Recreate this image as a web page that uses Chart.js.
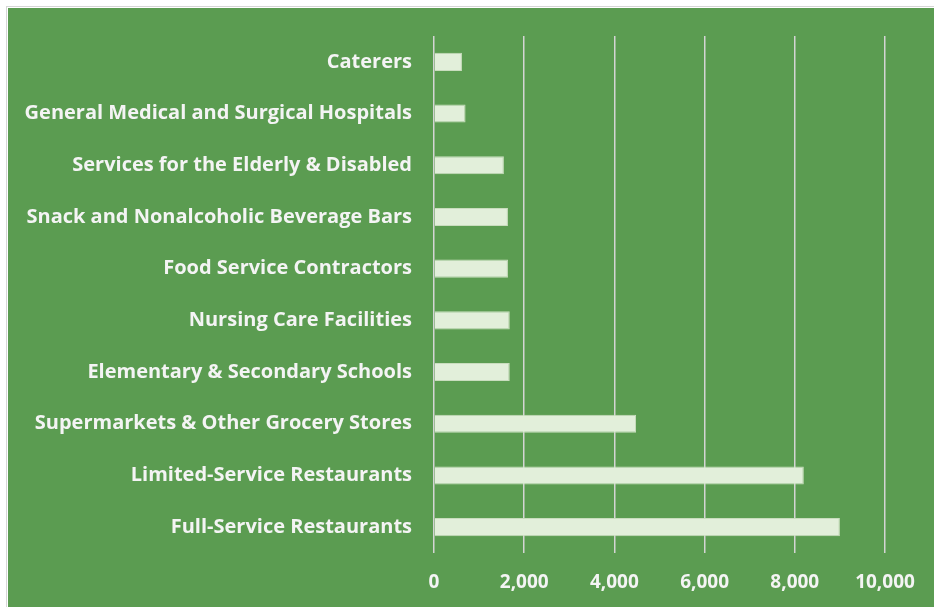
<!DOCTYPE html>
<html>
<head>
<meta charset="utf-8">
<script src="https://cdn.jsdelivr.net/npm/chart.js@4"></script>
<style>
  html, body { margin: 0; padding: 0; background: #ffffff; }
  #wrap { position: absolute; left: 8px; top: 8px; width: 926px; height: 599px; background: #5B9C51; }
  #edge { position: absolute; left: 6px; top: 6px; width: 928px; height: 601px; border-left: 1px solid #d6d6d6; border-top: 1px solid #d6d6d6; }
</style>
</head>
<body>
<div id="edge"></div>
<div id="wrap"><canvas id="barChart" width="926" height="599"></canvas></div>
<script>
// Data, displayed top-to-bottom
const categories = [
    'Caterers',
    'General Medical and Surgical Hospitals',
    'Services for the Elderly & Disabled',
    'Snack and Nonalcoholic Beverage Bars',
    'Food Service Contractors',
    'Nursing Care Facilities',
    'Elementary & Secondary Schools',
    'Supermarkets & Other Grocery Stores',
    'Limited-Service Restaurants',
    'Full-Service Restaurants'
];
const values = [620, 700, 1550, 1640, 1640, 1680, 1680, 4480, 8200, 9000];
const xTicks = [0, 2000, 4000, 6000, 8000, 10000];

const fontFamily = "'Open Sans', Lato, sans-serif";
const textColor = '#F4F4F4';

const ctx = document.getElementById('barChart').getContext('2d');
new Chart(ctx, {
    type: 'bar',
    data: {
        labels: categories,
        datasets: [{
            data: values,
            backgroundColor: '#E2EFDA',
            borderColor: '#C9DDBE',
            borderWidth: 1,
            categoryPercentage: 1,
            barPercentage: 0.35
        }]
    },
    options: {
        indexAxis: 'y',
        responsive: false,
        animation: false,
        layout: { padding: { top: 28, right: 49, bottom: 0, left: 0 } },
        plugins: { legend: { display: false }, tooltip: { enabled: false } },
        scales: {
            x: {
                min: 0, max: 10000,
                afterBuildTicks: axis => { axis.ticks = xTicks.map(v => ({ value: v })); },
                afterFit: axis => { axis.height = 54; },
                grid: { color: '#D4D4D4', lineWidth: 1.5, drawTicks: false },
                border: { display: false },
                ticks: {
                    padding: 18,
                    color: textColor,
                    font: { family: fontFamily, size: 19, weight: 'bold' },
                    callback: v => v.toLocaleString('en-US')
                }
            },
            y: {
                afterFit: axis => {
                    axis.width = 426;
                    axis.paddingTop = 0;
                    axis.paddingBottom = 0;
                },
                grid: { display: false, drawTicks: false },
                border: { display: false },
                ticks: {
                    padding: 22,
                    color: textColor,
                    font: { family: fontFamily, size: 20, weight: 'bold' }
                }
            }
        }
    }
});
</script>
</body>
</html>
